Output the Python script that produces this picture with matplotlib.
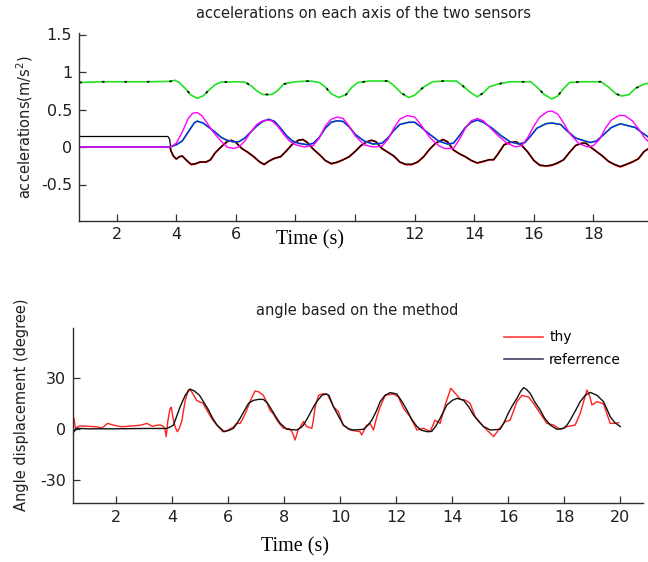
import matplotlib
matplotlib.use('Agg')
import matplotlib.pyplot as plt

plt.rcParams['font.family'] = ['DejaVu Sans']
plt.rcParams['mathtext.fontset'] = 'dejavusans'
plt.rcParams['axes.unicode_minus'] = False

# ---------------- top panel: accelerations ----------------
t_z = [0.75, 1.5, 3.0, 3.8, 3.95, 4.1, 4.3, 4.5, 4.7, 4.9, 5.1, 5.3, 5.5, 6.0, 6.3, 6.5, 6.7, 6.9, 7.2, 7.4,
       7.6, 8.0, 8.5, 8.8, 9.0, 9.2, 9.45, 9.7, 9.9, 10.1, 10.5, 11.1, 11.3, 11.55, 11.8, 12.0, 12.3, 12.6,
       13.0, 13.4, 13.6, 13.9, 14.1, 14.3, 14.5, 14.8, 15.2, 15.9, 16.1, 16.35, 16.6, 16.8, 17.0, 17.2,
       17.6, 18.25, 18.5, 18.75, 18.95, 19.2, 19.4, 19.7, 19.85]
acc_z = [0.86, 0.87, 0.87, 0.875, 0.89, 0.86, 0.78, 0.69, 0.65, 0.68, 0.76, 0.83, 0.865, 0.87, 0.865, 0.82,
         0.75, 0.70, 0.70, 0.75, 0.84, 0.87, 0.88, 0.86, 0.80, 0.71, 0.66, 0.70, 0.80, 0.86, 0.88, 0.88,
         0.82, 0.72, 0.66, 0.69, 0.80, 0.87, 0.88, 0.88, 0.82, 0.72, 0.67, 0.72, 0.80, 0.84, 0.87, 0.87,
         0.80, 0.70, 0.64, 0.68, 0.78, 0.86, 0.87, 0.87, 0.80, 0.71, 0.68, 0.70, 0.78, 0.84, 0.85]

t_m = [0.75, 3.75, 3.85, 4.0, 4.2, 4.4, 4.55, 4.7, 4.85, 5.0, 5.2, 5.45, 5.7, 5.9, 6.1, 6.3, 6.5, 6.7, 6.9,
       7.05, 7.2, 7.4, 7.6, 7.8, 8.0, 8.3, 8.6, 8.8, 9.0, 9.2, 9.4, 9.6, 9.8, 10.0, 10.3, 10.6, 10.9, 11.1,
       11.3, 11.5, 11.75, 12.0, 12.2, 12.5, 12.8, 13.0, 13.3, 13.5, 13.7, 13.9, 14.1, 14.3, 14.5, 14.8,
       15.1, 15.4, 15.6, 15.8, 16.0, 16.2, 16.45, 16.6, 16.8, 17.0, 17.2, 17.5, 17.8, 18.0, 18.2, 18.4,
       18.6, 18.85, 19.05, 19.3, 19.5, 19.7, 19.85]
acc_m = [0.0, 0.0, 0.01, 0.05, 0.2, 0.38, 0.45, 0.46, 0.42, 0.34, 0.22, 0.1, 0.0, -0.02, 0.0, 0.08, 0.2,
         0.3, 0.35, 0.36, 0.35, 0.28, 0.17, 0.08, 0.03, 0.0, 0.02, 0.12, 0.28, 0.37, 0.40, 0.38, 0.28,
         0.15, 0.03, 0.0, 0.01, 0.1, 0.25, 0.37, 0.42, 0.40, 0.3, 0.13, 0.02, -0.02, -0.02, 0.1, 0.25,
         0.35, 0.38, 0.35, 0.27, 0.15, 0.05, 0.0, 0.02, 0.13, 0.28, 0.40, 0.47, 0.48, 0.44, 0.32, 0.18,
         0.05, 0.0, 0.02, 0.1, 0.25, 0.36, 0.42, 0.42, 0.35, 0.25, 0.13, 0.07]

t_y = [0.75, 3.8, 4.0, 4.2, 4.4, 4.6, 4.7, 4.9, 5.1, 5.3, 5.5, 5.7, 5.9, 6.1, 6.3, 6.5, 6.7, 6.9, 7.1, 7.3,
       7.5, 7.7, 7.9, 8.1, 8.4, 8.6, 8.8, 9.0, 9.2, 9.4, 9.6, 9.8, 10.0, 10.3, 10.6, 10.9, 11.1, 11.3,
       11.5, 11.8, 12.0, 12.2, 12.5, 12.8, 13.1, 13.3, 13.5, 13.7, 13.9, 14.1, 14.3, 14.6, 14.9, 15.2,
       15.5, 15.7, 15.9, 16.1, 16.4, 16.6, 16.9, 17.1, 17.4, 17.7, 17.9, 18.1, 18.3, 18.6, 18.9, 19.1,
       19.4, 19.6, 19.85]
acc_y = [0.0, 0.0, 0.03, 0.08, 0.2, 0.32, 0.345, 0.32, 0.26, 0.2, 0.13, 0.09, 0.07, 0.07, 0.12, 0.2, 0.28,
         0.34, 0.37, 0.34, 0.25, 0.15, 0.08, 0.05, 0.03, 0.05, 0.13, 0.25, 0.33, 0.35, 0.34, 0.27, 0.17,
         0.08, 0.04, 0.05, 0.12, 0.22, 0.3, 0.33, 0.33, 0.27, 0.17, 0.08, 0.04, 0.05, 0.15, 0.26, 0.33,
         0.36, 0.33, 0.25, 0.15, 0.07, 0.04, 0.06, 0.15, 0.25, 0.31, 0.32, 0.3, 0.22, 0.12, 0.08, 0.06,
         0.08, 0.15, 0.26, 0.31, 0.29, 0.26, 0.2, 0.13]

t_x = [0.75, 3.72, 3.78, 3.82, 3.9, 4.0, 4.1, 4.2, 4.35, 4.5, 4.65, 4.8, 5.0, 5.15, 5.3, 5.5, 5.7, 5.85,
       6.0, 6.2, 6.4, 6.6, 6.8, 6.95, 7.1, 7.3, 7.5, 7.7, 7.9, 8.1, 8.25, 8.4, 8.6, 8.8, 9.0, 9.2, 9.4,
       9.6, 9.8, 10.0, 10.2, 10.4, 10.55, 10.7, 10.9, 11.1, 11.3, 11.5, 11.7, 11.9, 12.1, 12.3, 12.5,
       12.7, 12.95, 13.1, 13.3, 13.5, 13.7, 13.9, 14.1, 14.3, 14.5, 14.65, 14.8, 15.0, 15.2, 15.4, 15.6,
       15.8, 16.0, 16.2, 16.4, 16.6, 16.8, 17.0, 17.2, 17.4, 17.6, 17.75, 17.9, 18.1, 18.3, 18.5, 18.7,
       18.9, 19.1, 19.3, 19.5, 19.7, 19.85]
acc_x2 = [0.14, 0.14, 0.1, -0.05, -0.12, -0.16, -0.13, -0.12, -0.18, -0.23, -0.22, -0.2, -0.2, -0.17,
          -0.08, 0.0, 0.07, 0.09, 0.06, -0.02, -0.07, -0.13, -0.2, -0.23, -0.19, -0.15, -0.13, -0.05,
          0.04, 0.09, 0.1, 0.06, -0.03, -0.1, -0.18, -0.22, -0.2, -0.17, -0.13, -0.06, 0.02, 0.07, 0.09,
          0.07, -0.02, -0.07, -0.12, -0.2, -0.23, -0.23, -0.2, -0.13, -0.03, 0.05, 0.1, 0.07, -0.04,
          -0.09, -0.13, -0.18, -0.21, -0.19, -0.17, -0.17, -0.09, 0.03, 0.06, 0.07, 0.02, -0.07, -0.18,
          -0.24, -0.25, -0.24, -0.21, -0.17, -0.07, 0.02, 0.05, 0.05, 0.0, -0.06, -0.12, -0.19, -0.23,
          -0.26, -0.23, -0.2, -0.16, -0.06, -0.02]
acc_x1 = [0.0, 0.0, 0.0, -0.05, -0.12, -0.16, -0.13, -0.12, -0.18, -0.235, -0.225, -0.2, -0.2, -0.17,
          -0.08, 0.0, 0.07, 0.09, 0.06, -0.02, -0.07, -0.13, -0.2, -0.235, -0.19, -0.15, -0.13, -0.05,
          0.04, 0.09, 0.1, 0.06, -0.03, -0.1, -0.18, -0.225, -0.205, -0.17, -0.13, -0.06, 0.02, 0.07,
          0.09, 0.07, -0.02, -0.07, -0.12, -0.2, -0.235, -0.235, -0.2, -0.13, -0.03, 0.05, 0.1, 0.07,
          -0.04, -0.09, -0.13, -0.18, -0.215, -0.195, -0.17, -0.17, -0.09, 0.03, 0.06, 0.07, 0.02, -0.07,
          -0.18, -0.245, -0.255, -0.245, -0.215, -0.17, -0.07, 0.02, 0.05, 0.05, 0.0, -0.06, -0.12,
          -0.19, -0.235, -0.265, -0.235, -0.2, -0.16, -0.06, -0.02]

top_xticks = [2, 4, 6, 8, 10, 12, 14, 16, 18]
top_xticklabels = ['2', '4', '6', '', '', '12', '14', '16', '18']
top_yticks = [-0.5, 0, 0.5, 1, 1.5]
top_yticklabels = ['-0.5', '0', '0.5', '1', '1.5']

# ---------------- bottom panel: angle ----------------
t_ref = [0.5, 0.6, 1.0, 2.0, 3.0, 3.8, 3.95, 4.05, 4.15, 4.29, 4.47, 4.64, 4.8, 4.98, 5.15, 5.3, 5.45,
         5.6, 5.86, 6.05, 6.19, 6.3, 6.43, 6.6, 6.73, 6.9, 7.08, 7.26, 7.4, 7.5, 7.7, 7.86, 8.1, 8.45, 8.6,
         8.69, 8.85, 8.99, 9.15, 9.35, 9.5, 9.6, 9.76, 9.95, 10.12, 10.3, 10.48, 10.83, 11.0, 11.13, 11.3,
         11.43, 11.6, 11.79, 12.02, 12.2, 12.38, 12.55, 12.74, 12.9, 13.1, 13.27, 13.42, 13.57, 13.81,
         14.0, 14.17, 14.4, 14.6, 14.76, 14.95, 15.12, 15.36, 15.71, 15.85, 16.0, 16.15, 16.31, 16.45,
         16.55, 16.65, 16.79, 16.95, 17.14, 17.3, 17.5, 17.74, 17.98, 18.1, 18.21, 18.4, 18.57, 18.75,
         18.93, 19.17, 19.4, 19.52, 19.64, 19.8, 20.0]
ang_ref = [-1.4, 0.6, 0.3, 0.3, 0.5, 0.5, 1.5, 2.5, 7, 13.3, 20, 23.7, 22.5, 20, 15.5, 11.4, 6.5, 2.6,
           -1.4, -0.5, 0.6, 3, 6.5, 11.5, 15.3, 17, 17.6, 17.6, 15.5, 13, 7.5, 3.5, 0, -0.4, 1, 2.5, 7,
           11.4, 16, 20, 20.8, 20, 13.3, 7.5, 2.5, 0.3, -0.4, 0, 2.5, 5.4, 11, 16.3, 20, 21.6, 20.8, 16.5,
           11.4, 6, 1.6, -0.5, -1.4, -1.2, 2, 6.5, 14.3, 17, 18.2, 17.2, 13, 8.4, 4.5, 1.6, -0.4, 0, 4,
           9.4, 14, 18.2, 22.5, 24.5, 23.5, 21, 16, 11.4, 6.5, 2.5, 0, 0.6, 2.5, 5.4, 11, 16.3, 20, 21.7,
           20, 16.3, 12, 7.5, 4, 1.6]

t_thy = [0.5, 0.55, 0.7, 1.0, 1.3, 1.5, 1.7, 1.9, 2.2, 2.6, 2.9, 3.1, 3.3, 3.5, 3.6, 3.7, 3.75, 3.79,
         3.85, 3.93, 3.97, 4.05, 4.12, 4.19, 4.27, 4.35, 4.47, 4.58, 4.66, 4.74, 4.88, 5.0, 5.1, 5.25,
         5.45, 5.65, 5.81, 6.0, 6.2, 6.3, 6.43, 6.55, 6.67, 6.8, 6.96, 7.1, 7.26, 7.38, 7.5, 7.62, 7.74,
         7.85, 7.98, 8.2, 8.3, 8.39, 8.5, 8.6, 8.69, 8.81, 8.99, 9.05, 9.11, 9.23, 9.4, 9.55, 9.76, 9.94,
         10.1, 10.36, 10.71, 10.77, 10.95, 11.07, 11.19, 11.31, 11.43, 11.61, 11.9, 12.08, 12.26, 12.5,
         12.74, 12.98, 13.21, 13.39, 13.57, 13.75, 13.95, 14.17, 14.3, 14.46, 14.64, 14.82, 15.12, 15.3,
         15.48, 15.65, 15.89, 16.07, 16.31, 16.49, 16.6, 16.73, 16.9, 17.14, 17.38, 17.62, 17.86, 18.1,
         18.39, 18.57, 18.81, 18.9, 18.99, 19.17, 19.4, 19.64, 19.8, 19.94]
ang_thy = [6.5, 0.6, 2, 1.8, 1.5, 0.8, 3.5, 2.5, 1.5, 2, 2.5, 3.5, 1.8, 2.5, 2.5, 1.5, -0.3, -4.3, 5,
           12.3, 13, 5.4, 1, -1.4, 1, 5, 17, 23.1, 23, 21, 17, 16, 15.5, 11, 5.5, 1.5, -1.4, -0.5, 1.5,
           3.5, 3.5, 7, 11.4, 17, 22.5, 22, 20, 16, 11, 9, 5.4, 3, 0.6, 0.3, -2, -6.3, -0.4, 2, 4.5, 1.6,
           0.6, 6, 13.4, 20, 21, 20.5, 13.3, 10.4, 2.5, -0.4, -1.4, -3.3, 2.5, 3.5, -0.4, 7.4, 13.3, 20,
           20.8, 19, 12.3, 7.4, -0.4, 0.6, -1.4, 5.4, 3.5, 14.3, 24.1, 20, 17.5, 17.2, 15.3, 7.5, 1.6,
           -1.4, -4.3, -0.4, 4.5, 5.4, 16.3, 20, 19.5, 19, 15.3, 9.4, 3.5, 2.5, 0, 1.6, 2.5, 9.4, 23.1,
           20, 14.3, 16.3, 15, 3.5, 3.5, 3.9]

bot_xticks = [2, 4, 6, 8, 10, 12, 14, 16, 18, 20]
bot_yticks = [-30, 0, 30]
legend_labels = ['thy', 'referrence']

# ---------------- figure ----------------
W, H = 648, 562
fig = plt.figure(figsize=(W / 100, H / 100), dpi=100)


def box(l, t, r, b):
    return [l / W, 1 - b / H, (r - l) / W, (b - t) / H]


ax1 = fig.add_axes(box(79, 33, 648, 220.5))
ax2 = fig.add_axes(box(73.3, 328.3, 642.7, 503.3))

for ax in (ax1, ax2):
    ax.spines['top'].set_visible(False)
    ax.spines['right'].set_visible(False)
    for s in ('left', 'bottom'):
        ax.spines[s].set_color('#303030')
        ax.spines[s].set_linewidth(1.0)
    ax.tick_params(direction='in', length=5, width=0.9, color='#303030',
                   labelsize=11.5, labelcolor='#202020', pad=5)

lw = 1.0
ax1.plot(t_x, acc_x1, color='#ff0000', lw=1.35)
ax1.plot(t_x, acc_x2, color='#000000', lw=0.9)
ax1.plot(t_y, acc_y, color='#22e022', lw=1.3)
ax1.plot(t_y, acc_y, color='#1a1aff', lw=lw)
ax1.plot(t_m, acc_m, color='#ff00ff', lw=lw)
ax1.plot(t_z, acc_z, color='#22e022', lw=1.2)
ax1.plot(t_z, acc_z, color='#000000', lw=1.2, dashes=(1.5, 12))

ax1.set_xlim(0.735, 19.83)
ax1.set_ylim(-0.98, 1.52)
ax1.set_xticks(top_xticks)
ax1.set_xticklabels(top_xticklabels)
ax1.set_yticks(top_yticks)
ax1.set_yticklabels(top_yticklabels)

l_thy, = ax2.plot(t_thy, ang_thy, color='#ff2020', lw=lw)
l_ref, = ax2.plot(t_ref, ang_ref, color='#101010', lw=lw)
ax2.set_xlim(0.475, 20.8)
ax2.set_ylim(-43.5, 59.4)
ax2.set_xticks(bot_xticks)
ax2.set_yticks(bot_yticks)

leg_h1, = ax2.plot([], [], color='#ff4040', lw=1.2)
leg_h2, = ax2.plot([], [], color='#404060', lw=1.2)
fig.legend([leg_h1, leg_h2], legend_labels, loc='upper left',
           bbox_to_anchor=(504 / W, 1 - 330.5 / H), frameon=False, fontsize=10,
           handlelength=2.8, handletextpad=0.45, labelspacing=0.6, borderpad=0,
           borderaxespad=0)

# titles and labels
fig.text(363.5 / W, 1 - 14 / H, 'accelerations on each axis of the two sensors',
         ha='center', va='center', fontsize=10.5, color='#202020')
fig.text(357 / W, 1 - 310 / H, 'angle based on the method',
         ha='center', va='center', fontsize=10.5, color='#202020')
fig.text(25 / W, 1 - 127.5 / H, 'accelerations(m/s$^2$)', rotation=90,
         ha='center', va='center', fontsize=10.5, color='#202020')
fig.text(21.7 / W, 1 - 405 / H, 'Angle displacement (degree)', rotation=90,
         ha='center', va='center', fontsize=10.5, color='#202020')
fig.text(310 / W, 1 - 240 / H, 'Time (s)', family='Liberation Serif',
         ha='center', va='center', fontsize=14.5, color='#000000')
fig.text(295 / W, 1 - 547 / H, 'Time (s)', family='Liberation Serif',
         ha='center', va='center', fontsize=14.5, color='#000000')

fig.savefig('out.png', dpi=100)
